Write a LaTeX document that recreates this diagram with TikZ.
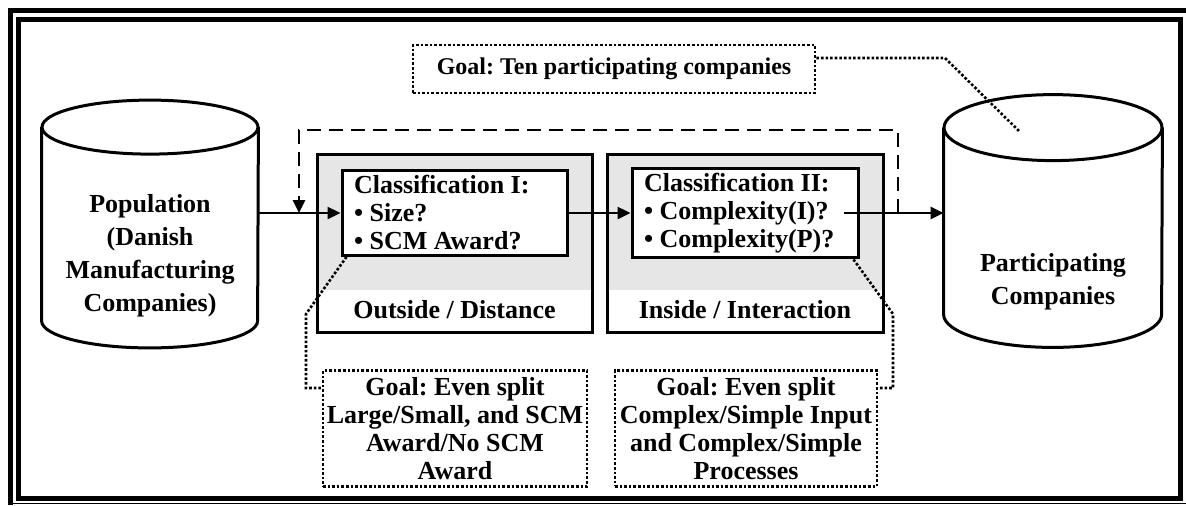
\documentclass[tikz,border=0pt]{standalone}
\usepackage{fontspec}
\setmainfont{Liberation Serif}
\usetikzlibrary{arrows.meta, backgrounds}
\definecolor{boxgray}{RGB}{230,230,230}

\begin{document}
\frenchspacing
\begin{tikzpicture}[x=0.5pt, y=-0.5pt,
  font=\fontsize{13}{15}\selectfont\bfseries,
  drum/.style={draw, line width=1.5pt},
  drumbox/.style={inner sep=0pt, minimum width=#1, minimum height=123.5pt},
  drumtext/.style={align=center, font=\fontsize{13}{16.5}\selectfont\bfseries},
  area/.style={draw, line width=1.5pt, minimum width=#1, minimum height=89pt},
  cls/.style={draw, line width=1.5pt, fill=white, minimum height=41pt, text width=#1,
    inner xsep=6pt, inner ysep=2.5pt, align=flush left, font=\fontsize{13}{14}\selectfont\bfseries},
  goal/.style={draw, line width=1.3pt, dash pattern=on 1.3pt off 1pt, align=center, minimum width=#1,
    font=\fontsize{13}{14}\selectfont\bfseries},
  arr/.style={line width=1.2pt, -{Triangle[length=6.5pt, width=6pt]}},
  fb/.style={line width=1.4pt, dash pattern=on 7pt off 4pt, -{Triangle[length=6.5pt, width=6pt]}},
  lead/.style={line width=1.3pt, dash pattern=on 1.3pt off 1pt}
]
  \useasboundingbox (0,0) rectangle (1186,505);

  % double frame
  \draw[line width=2.5pt] (18.5,19) rectangle (1180.5,498.5);
  \draw[line width=2.5pt] (10.5,505) -- (10.5,10.5) -- (1186,10.5);
  \draw[line width=0.7pt] (10.5,503.5) -- (1186,503.5);

  % databases
  \node[drumbox=108pt] (pop) at (150,224) {};
  \node[drumbox=109pt, minimum height=126pt] (part) at (1053,221) {};
  \foreach \n/\r/\w in {pop/13.5pt/54pt, part/16.5pt/54.5pt}{
    \draw[drum] ([yshift=-\r]\n.north west) -- ([yshift=\r]\n.south west)
      arc[start angle=180, end angle=360, x radius=\w, y radius=\r] -- ([yshift=-\r]\n.north east);
    \draw[drum] ([yshift=-\r]\n.north) ellipse[x radius=\w, y radius=\r];
  }
  \node[drumtext] (poplab) at (150,256) {Population\\(Danish\\Manufacturing\\Companies)};
  \node[drumtext] (partlab) at (1053,282) {Participating\\Companies};

  % classification stages
  \node[area=137.5pt] (o1) at (454.5,243) {};
  \node[area=138pt] (o2) at (745,243) {};
  \begin{scope}[on background layer]
    \fill[boxgray] (o1.north west) rectangle ([yshift=22pt]o1.south east);
    \fill[boxgray] (o2.north west) rectangle ([yshift=22pt]o2.south east);
  \end{scope}
  \node (o1lab) at (454.5,310) {Outside / Distance};
  \node (o2lab) at (745,310) {Inside / Interaction};

  \node[cls=100.5pt] (cls1) at (454.5,213) {Classification I:\\• Size?\\• SCM Award?};
  \node[cls=101pt] (cls2) at (745,213) {Classification II:\\• Complexity(I)?\\• Complexity(P)?};

  % goals
  \node[goal=201pt, minimum height=24pt, font=\fontsize{12}{14}\selectfont\bfseries] (gtop) at (614,69)
    {Goal: Ten participating companies};
  \node[goal=132pt, minimum height=56.5pt, inner xsep=1pt] (g1) at (455,428.5)
    {Goal: Even split\\Large/Small, and SCM\\Award/No SCM\\Award};
  \node[goal=131pt, minimum height=56.5pt, inner xsep=1pt] (g2) at (746,428.5)
    {Goal: Even split\\Complex/Simple Input\\and Complex/Simple\\Processes};

  % flow
  \draw[arr] (pop.east |- cls1.west) -- (cls1.west);
  \draw[arr] (cls1.east) -- (cls2.west);
  \draw[arr] ([xshift=-8pt]cls2.east) -- (part.west |- cls2.east);

  % feedback loop
  \coordinate (fbR) at (898,130);
  \coordinate (fbL) at (299,130);
  \draw[fb] (fbR |- cls2.east) -- (fbR) -- (fbL) -- (fbL |- cls1.west);

  % dotted leaders to the goals
  \coordinate (la1) at (306,314);
  \coordinate (la2) at (306,388);
  \draw[lead] ([xshift=3pt]cls1.south west) -- (la1) -- (la2) -- (la2 -| g1.west);
  \coordinate (lb1) at (893,314);
  \coordinate (lb2) at (893,388);
  \draw[lead] ([xshift=-3pt]cls2.south east) -- (lb1) -- (lb2) -- (lb2 -| g2.east);
  \coordinate (lc1) at (945,58);
  \coordinate (lc2) at (1019,131);
  \draw[lead] (gtop.east |- lc1) -- (lc1) -- (lc2);
\end{tikzpicture}
\end{document}
